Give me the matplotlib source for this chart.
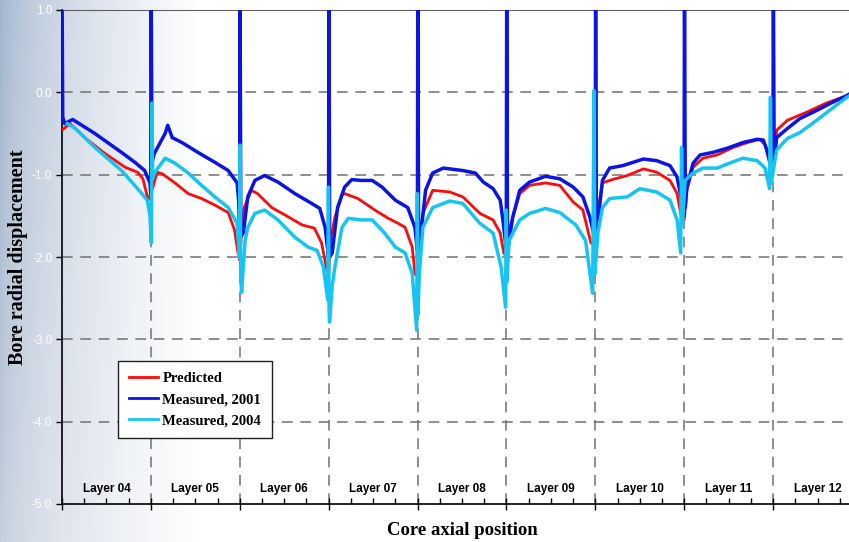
import numpy as np
import matplotlib
matplotlib.use("Agg")
import matplotlib.pyplot as plt

# layers along the core (one unit per layer)
layers = ["Layer 04", "Layer 05", "Layer 06", "Layer 07", "Layer 08",
          "Layer 09", "Layer 10", "Layer 11", "Layer 12"]
y_ticks = [1.0, 0.0, -1.0, -2.0, -3.0, -4.0, -5.0]

# Predicted
pred_x = [0.00, 0.09, 0.29, 0.48, 0.71, 0.85, 0.91, 0.97, 1.01, 1.07, 1.13, 1.27, 1.42, 1.57, 1.72,
          1.87, 1.94, 1.98, 2.00, 2.02, 2.05, 2.13, 2.20, 2.36, 2.51, 2.70, 2.84, 2.92, 2.98, 3.00,
          3.02, 3.07, 3.15, 3.18, 3.33, 3.52, 3.67, 3.78, 3.86, 3.94, 3.97, 4.00, 4.02, 4.06, 4.17,
          4.36, 4.51, 4.70, 4.85, 4.93, 4.97, 5.00, 5.03, 5.15, 5.26, 5.44, 5.60, 5.75, 5.86, 5.95,
          6.00, 6.02, 6.08, 6.19, 6.36, 6.54, 6.69, 6.84, 6.92, 6.96, 7.00, 7.03, 7.10, 7.21, 7.37,
          7.55, 7.71, 7.85, 7.91, 7.96, 8.00, 8.02, 8.04, 8.16, 8.38, 8.60, 8.83, 8.86]
pred_y = [-0.46, -0.38, -0.58, -0.74, -0.91, -0.97, -1.05, -1.31, -1.20, -0.97, -0.99, -1.10, -1.23, -1.29, -1.37,
          -1.46, -1.67, -1.95, -2.04, -1.70, -1.40, -1.19, -1.23, -1.40, -1.49, -1.61, -1.65, -1.83, -2.16, -2.20,
          -1.80, -1.52, -1.25, -1.23, -1.29, -1.43, -1.53, -1.59, -1.64, -1.88, -2.20, -2.25, -1.80, -1.47, -1.19,
          -1.21, -1.27, -1.47, -1.55, -1.71, -1.95, -2.00, -1.67, -1.23, -1.13, -1.10, -1.13, -1.33, -1.43, -1.83,
          -1.85, -1.50, -1.10, -1.06, -1.01, -0.93, -0.97, -1.07, -1.23, -1.47, -1.55, -1.19, -0.91, -0.80, -0.76,
          -0.67, -0.61, -0.57, -0.64, -0.86, -0.85, -0.74, -0.46, -0.34, -0.24, -0.13, -0.04, -0.02]

# Measured, 2001
m01_x = [0.000, 0.008, 0.03, 0.12, 0.37, 0.67, 0.82, 0.93, 0.99, 0.998,
         1.003, 1.012, 1.04, 1.16, 1.19, 1.24, 1.35, 1.53, 1.72, 1.87, 1.97, 1.99, 1.998,
         2.003, 2.012, 2.04, 2.09, 2.17, 2.28, 2.43, 2.62, 2.81, 2.90, 2.96, 2.99, 2.998,
         3.003, 3.012, 3.04, 3.10, 3.18, 3.26, 3.37, 3.49, 3.60, 3.75, 3.89, 3.97, 3.998,
         4.003, 4.012, 4.03, 4.09, 4.17, 4.29, 4.51, 4.65, 4.74, 4.85, 4.93, 4.96, 4.99, 4.998,
         5.003, 5.012, 5.02, 5.07, 5.15, 5.26, 5.44, 5.60, 5.75, 5.86, 5.94, 5.99, 5.998,
         6.003, 6.012, 6.08, 6.16, 6.31, 6.54, 6.69, 6.84, 6.92, 6.97, 6.998,
         7.003, 7.012, 7.03, 7.10, 7.18, 7.32, 7.48, 7.66, 7.82, 7.89, 7.93, 7.97, 7.998,
         8.003, 8.012, 8.04, 8.16, 8.30, 8.49, 8.67, 8.83, 8.86]
m01_y = [1.40, -0.30, -0.38, -0.33, -0.50, -0.73, -0.85, -0.95, -1.10, -1.23,
         1.40, -0.85, -0.74, -0.50, -0.40, -0.55, -0.61, -0.73, -0.85, -0.95, -1.10, -1.35, -1.65,
         1.40, -1.75, -1.71, -1.27, -1.07, -1.01, -1.09, -1.23, -1.35, -1.41, -1.64, -1.92, -2.00,
         1.40, -2.00, -1.95, -1.40, -1.15, -1.06, -1.07, -1.07, -1.15, -1.31, -1.40, -1.64, -1.92,
         1.40, -1.85, -1.80, -1.19, -0.98, -0.92, -0.95, -0.98, -1.09, -1.17, -1.31, -1.55, -1.83, -1.90,
         1.40, -1.90, -1.88, -1.52, -1.19, -1.09, -1.02, -1.05, -1.15, -1.27, -1.52, -1.76, -1.80,
         1.40, -1.75, -1.07, -0.92, -0.89, -0.81, -0.83, -0.89, -1.03, -1.31, -1.50,
         1.40, -1.40, -1.15, -0.86, -0.76, -0.73, -0.68, -0.61, -0.57, -0.58, -0.70, -0.85, -0.90,
         1.40, -0.83, -0.55, -0.44, -0.32, -0.22, -0.12, -0.04, -0.02]

# Measured, 2004
m04_x = [0.06, 0.15, 0.37, 0.67, 0.85, 0.96, 0.99, 1.005, 1.012, 1.02, 1.04, 1.16, 1.27, 1.42, 1.57,
         1.72, 1.87, 1.97, 1.995, 2.003, 2.01, 2.02, 2.06, 2.09, 2.17, 2.28, 2.43, 2.62, 2.77, 2.87,
         2.94, 2.99, 2.998, 3.005, 3.01, 3.04, 3.07, 3.15, 3.22, 3.37, 3.49, 3.63, 3.75, 3.86, 3.94,
         3.99, 3.998, 4.005, 4.02, 4.06, 4.17, 4.36, 4.51, 4.70, 4.85, 4.94, 4.99, 4.998, 5.005, 5.03,
         5.15, 5.26, 5.44, 5.60, 5.78, 5.89, 5.97, 5.985, 5.995, 6.03, 6.08, 6.16, 6.36, 6.50, 6.69,
         6.84, 6.92, 6.96, 6.97, 6.98, 7.01, 7.10, 7.21, 7.37, 7.51, 7.66, 7.82, 7.91, 7.96, 7.97,
         7.98, 8.04, 8.16, 8.30, 8.49, 8.67, 8.83, 8.86]
m04_y = [-0.38, -0.44, -0.67, -0.95, -1.17, -1.31, -1.50, -1.83, -0.13, -1.05, -0.98, -0.80, -0.86, -0.98, -1.13,
         -1.27, -1.40, -1.59, -2.00, -0.64, -2.20, -2.43, -1.80, -1.64, -1.47, -1.43, -1.55, -1.76, -1.88, -1.92,
         -2.12, -2.52, -1.15, -2.65, -2.79, -2.35, -2.12, -1.64, -1.53, -1.55, -1.55, -1.71, -1.88, -1.95, -2.20,
         -2.89, -1.23, -2.70, -2.20, -1.64, -1.40, -1.32, -1.35, -1.59, -1.71, -2.12, -2.61, -1.43, -2.30, -1.80,
         -1.55, -1.47, -1.41, -1.46, -1.61, -1.80, -2.44, 0.02, -2.20, -1.70, -1.40, -1.29, -1.27, -1.17, -1.21,
         -1.31, -1.55, -1.95, -0.67, -1.60, -1.07, -0.98, -0.92, -0.92, -0.86, -0.80, -0.83, -0.92, -1.17, -0.06,
         -1.10, -0.70, -0.56, -0.49, -0.34, -0.19, -0.06, -0.04]

W, H = 849, 542
fig = plt.figure(figsize=(W / 100, H / 100), dpi=100)

# slide-style background: blue-grey on the left fading into white
bg = fig.add_axes([0, 0, 1, 1], zorder=-10)
xx = np.linspace(0, 1, W)[None, :]
yy = np.linspace(0, 1, H)[:, None]
fade = np.clip(xx * W / 200.0, 0, 1) ** 0.6
base = np.stack([0.62 + 0.14 * yy, 0.70 + 0.10 * yy, 0.80 + 0.06 * yy], axis=-1) * np.ones((H, W, 1))
img = base * (1 - fade[..., None]) + fade[..., None]
bg.imshow(np.clip(img, 0, 1), aspect="auto", extent=[0, 1, 0, 1])
bg.axis("off")

ax = fig.add_axes([62 / W, 38 / H, 800 / W, 494 / H])
ax.patch.set_alpha(0)

ax.plot(pred_x, pred_y, color="#ff0a0a", lw=2.0, label="Predicted", zorder=3)
ax.plot(m01_x, m01_y, color="#0a14e6", lw=2.5, label="Measured, 2001", zorder=4)
ax.plot(m04_x, m04_y, color="#16c4f2", lw=2.5, label="Measured, 2004", zorder=5)

ax.set_xlim(0, len(layers))
ax.set_ylim(-5, 1)

# grid lines
for v in y_ticks[1:-1]:
    ax.axhline(v, color="#707070", lw=1.1, ls=(0, (7, 5)), zorder=1)
for b in range(1, len(layers)):
    ax.axvline(b, color="#707070", lw=1.1, ls=(0, (7, 5)), zorder=1)

ax.spines["right"].set_visible(False)
ax.spines["top"].set_color("#606060")
ax.spines["left"].set_color("black")
ax.spines["bottom"].set_color("black")
ax.spines["left"].set_linewidth(1.2)
ax.spines["bottom"].set_linewidth(1.2)

ax.set_yticks(y_ticks)
ax.set_yticklabels([f"{v:.1f}" for v in y_ticks], color="white",
                   fontsize=8.5, family="Liberation Sans")
ax.tick_params(axis="y", length=4, width=1, color="black", pad=3)

ax.set_xticks(range(len(layers) + 1))
ax.set_xticks(np.arange(0, len(layers), 0.25), minor=True)
ax.set_xticklabels([])
ax.tick_params(axis="x", which="major", direction="inout", length=8, width=1)
ax.tick_params(axis="x", which="minor", direction="in", length=4, width=1)

for i, name in enumerate(layers):
    ax.text(i + 0.5, -4.82, name, ha="center", va="center", fontsize=8.5,
            fontweight="bold", family="Liberation Sans")

ax.set_xlabel("Core axial position", fontsize=13.5, fontweight="bold",
              family="Liberation Serif")
ax.set_ylabel("Bore radial displacement", fontsize=14.5, fontweight="bold",
              family="Liberation Serif")
ax.xaxis.set_label_coords(0.5, -0.053)
ax.yaxis.set_label_coords(-0.055, 0.5)
ax.xaxis.label.set_va("center")
ax.yaxis.label.set_va("center")

leg = ax.legend(loc="upper left", bbox_to_anchor=(0.07, 0.29), borderaxespad=0,
                frameon=True, fancybox=False, edgecolor="#202020", handlelength=2.0,
                handletextpad=0.3, borderpad=0.75, labelspacing=0.55,
                prop={"family": "Liberation Serif", "weight": "bold", "size": 10.5})
leg.get_frame().set_linewidth(1.0)
leg.get_frame().set_facecolor("white")
leg.get_frame().set_alpha(1)
for line in leg.get_lines():
    line.set_linewidth(2.0)

fig.savefig("out.png", dpi=100)
